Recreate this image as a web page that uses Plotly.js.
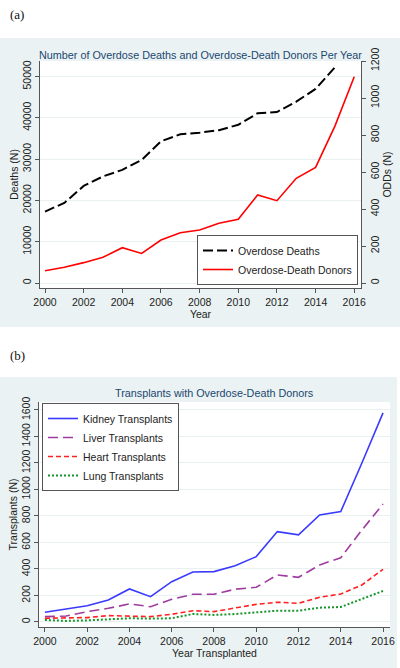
<!DOCTYPE html>
<html>
<head>
<meta charset="utf-8">
<script src="https://cdn.plot.ly/plotly-3.0.1.min.js"></script>
<style>html,body{margin:0;padding:0;background:#fff;}#chart{width:400px;height:668px;}</style>
</head>
<body>
<div id="chart"></div>
<script>
// ---- data ----
const years = [2000,2001,2002,2003,2004,2005,2006,2007,2008,2009,2010,2011,2012,2013,2014,2015,2016];
const overdoseDeaths = [17300,19400,23500,25800,27400,29800,34300,36000,36400,37000,38300,41100,41400,43900,47000,52200,null];
const overdoseDeathDonors = [66,85,110,139,191,160,232,272,286,323,344,476,445,566,625,848,1115];
const kidneyTx = [73,96,123,166,249,191,304,377,380,425,493,682,657,808,833,1200,1578];
const liverTx = [40,45,78,103,136,115,171,209,209,247,262,355,337,430,485,694,890];
const heartTx = [28,30,33,48,45,40,58,85,78,103,133,149,141,186,211,279,397];
const lungTx = [15,8,12,18,28,25,28,60,53,60,73,85,85,108,113,171,234];
const xTicks = [2000,2002,2004,2006,2008,2010,2012,2014,2016];
const deathTicks = [0,10000,20000,30000,40000,50000];
const oddTicks = [0,200,400,600,800,1000,1200];
const txTicks = [0,200,400,600,800,1000,1200,1400,1600];

const W = 400, H = 668;
const px = v => v / W;
const py = v => 1 - v / H;
const FONT = '"Liberation Sans", Arial, sans-serif';
const TICKC = '#222';
const GRID = '#e8f0f2';
const BG = '#eaf2f3';
const AXC = '#555';

const traces = [
  {x: years, y: overdoseDeaths, name: 'Overdose Deaths', type: 'scatter', mode: 'lines',
   xaxis: 'x', yaxis: 'y', line: {color: '#000', width: 2, dash: '10px,4px'}, legend: 'legend'},
  {x: years, y: overdoseDeathDonors, name: 'Overdose-Death Donors', type: 'scatter', mode: 'lines',
   xaxis: 'x', yaxis: 'y2', line: {color: '#ff0000', width: 1.6}, legend: 'legend'},
  {x: years, y: kidneyTx, name: 'Kidney Transplants', type: 'scatter', mode: 'lines',
   xaxis: 'x2', yaxis: 'y3', line: {color: '#3a3aff', width: 1.6}, legend: 'legend2'},
  {x: years, y: liverTx, name: 'Liver Transplants', type: 'scatter', mode: 'lines',
   xaxis: 'x2', yaxis: 'y3', line: {color: '#a03ca0', width: 1.6, dash: '10px,5px'}, legend: 'legend2'},
  {x: years, y: heartTx, name: 'Heart Transplants', type: 'scatter', mode: 'lines',
   xaxis: 'x2', yaxis: 'y3', line: {color: '#ff2020', width: 1.6, dash: '5px,3px'}, legend: 'legend2'},
  {x: years, y: lungTx, name: 'Lung Transplants', type: 'scatter', mode: 'lines',
   xaxis: 'x2', yaxis: 'y3', line: {color: '#15962a', width: 2, dash: '2px,2px'}, legend: 'legend2'}
];

const tickFont = {family: FONT, size: 10.5, color: TICKC};
const titleFont = {family: FONT, size: 10.5, color: TICKC};

const xCommon = {
  tickmode: 'array', tickvals: xTicks, ticktext: xTicks.map(String),
  ticks: 'outside', ticklen: 4, tickcolor: AXC, showline: true, linecolor: AXC, linewidth: 1,
  showgrid: false, zeroline: false, tickfont: tickFont, fixedrange: true
};
const yCommon = {
  ticks: 'outside', ticklen: 4, tickcolor: AXC, showline: true, linecolor: AXC, linewidth: 1,
  zeroline: false, tickfont: tickFont, tickangle: -90, tickmode: 'array', fixedrange: true,
  gridcolor: GRID, gridwidth: 1
};

const layout = {
  width: W, height: H,
  margin: {l: 0, r: 0, t: 0, b: 0},
  paper_bgcolor: '#ffffff', plot_bgcolor: '#ffffff',
  font: {family: FONT, size: 10.5, color: TICKC},
  title: {text: 'Number of Overdose Deaths and Overdose-Death Donors Per Year',
          x: px(200.5), y: py(55), xref: 'paper', yref: 'paper', xanchor: 'center', yanchor: 'middle',
          font: {family: FONT, size: 10.8, color: '#1a476f'}},
  xaxis: Object.assign({}, xCommon, {domain: [px(40), px(361)], range: [1999.74, 2016.35], anchor: 'y',
          title: {text: 'Year', font: titleFont, standoff: 0}}),
  yaxis: Object.assign({}, yCommon, {domain: [py(288), py(61)], range: [-1210, 53750], anchor: 'x',
          tickvals: deathTicks, ticktext: deathTicks.map(String), showgrid: true,
          title: {text: 'Deaths (N)', font: titleFont, standoff: 0}}),
  yaxis2: Object.assign({}, yCommon, {overlaying: 'y', side: 'right', range: [-27, 1200], anchor: 'x',
          tickvals: oddTicks, ticktext: oddTicks.map(String), showgrid: false,
          title: {text: 'ODDs (N)', font: titleFont, standoff: 0}}),
  xaxis2: Object.assign({}, xCommon, {domain: [px(39), px(390)], range: [1999.72, 2016.33], anchor: 'y3',
          title: {text: 'Year Transplanted', font: titleFont, standoff: 0}}),
  yaxis3: Object.assign({}, yCommon, {domain: [py(627), py(402)], range: [-38, 1660], anchor: 'x2',
          tickvals: txTicks, ticktext: txTicks.map(String), showgrid: true,
          title: {text: 'Transplants (N)', font: titleFont, standoff: 0}}),
  legend: {x: px(358), y: py(285), xanchor: 'right', yanchor: 'bottom', xref: 'paper', yref: 'paper',
           bgcolor: '#fff', bordercolor: AXC, borderwidth: 1, font: {family: FONT, size: 10.5, color: TICKC},
           itemwidth: 30, tracegroupgap: 0},
  legend2: {x: px(42), y: py(403), xanchor: 'left', yanchor: 'top', xref: 'paper', yref: 'paper',
           bgcolor: '#fff', bordercolor: AXC, borderwidth: 1, font: {family: FONT, size: 10.5, color: TICKC},
           itemwidth: 30, tracegroupgap: 0},
  showlegend: true,
  shapes: [
    {type: 'rect', xref: 'paper', yref: 'paper', x0: 0, x1: 1, y0: py(327), y1: py(38),
     fillcolor: BG, line: {width: 0}, layer: 'below'},
    {type: 'rect', xref: 'paper', yref: 'paper', x0: 0, x1: px(397), y0: 0, y1: py(377),
     fillcolor: BG, line: {width: 0}, layer: 'below'},
    {type: 'rect', xref: 'paper', yref: 'paper', x0: px(40), x1: px(361), y0: py(288), y1: py(61),
     fillcolor: '#fff', line: {width: 0}, layer: 'below'},
    {type: 'rect', xref: 'paper', yref: 'paper', x0: px(39), x1: px(390), y0: py(627), y1: py(402),
     fillcolor: '#fff', line: {width: 0}, layer: 'below'}
  ],
  annotations: [
    {text: '(a)', xref: 'paper', yref: 'paper', x: px(8), y: py(15), xanchor: 'left', yanchor: 'middle',
     showarrow: false, font: {family: '"Liberation Serif", "Times New Roman", serif', size: 13, color: '#111'}},
    {text: '(b)', xref: 'paper', yref: 'paper', x: px(8), y: py(355), xanchor: 'left', yanchor: 'middle',
     showarrow: false, font: {family: '"Liberation Serif", "Times New Roman", serif', size: 13, color: '#111'}},
    {text: 'Transplants with Overdose-Death Donors', xref: 'paper', yref: 'paper', x: px(214), y: py(393),
     xanchor: 'center', yanchor: 'middle', showarrow: false,
     font: {family: FONT, size: 10.8, color: '#1a476f'}}
  ]
};

Plotly.newPlot('chart', traces, layout, {displayModeBar: false, staticPlot: true});
</script>
</body>
</html>
